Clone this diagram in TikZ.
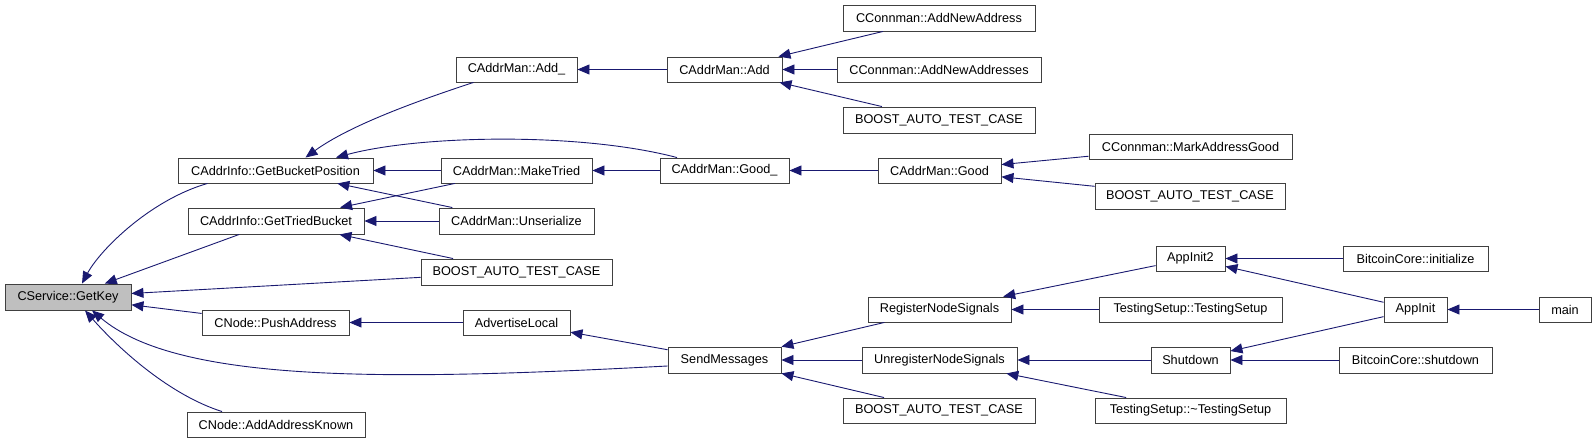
\documentclass[tikz,border=0pt]{standalone}
\usepackage{fontspec}
\setmainfont{Liberation Sans}
\usetikzlibrary{arrows.meta,calc}
\definecolor{edgeblue}{HTML}{191970}
\definecolor{boxline}{HTML}{404040}
\definecolor{hlfill}{HTML}{BFBFBF}
\newcommand\ndbox[7][]{%
  \node[box,#1,minimum width={(#5-#3)*1pt},minimum height={(#6-#4)*1pt}] (#2) at ({(#3+#5)/2},{(#4+#6)/2}) {#7};}
\begin{document}
\begin{tikzpicture}[x=1pt,y=-1pt,
  box/.style={draw=boxline,line width=0.9pt,fill=white,inner sep=0pt,font=\fontsize{12.7}{14}\selectfont,text=black},
  edge/.style={draw=edgeblue,line width=0.9pt,{Triangle[length=12pt,width=10pt]}-}]
\useasboundingbox (0,0) rectangle (1596,443);
% column 0
\ndbox[fill=hlfill]{gk}{5}{284}{131}{310}{CService::GetKey}
% column 1
\ndbox{gbp}{178}{158}{373}{183}{CAddrInfo::GetBucketPosition}
\ndbox{gtb}{188}{208}{364}{234}{CAddrInfo::GetTriedBucket}
\ndbox{pa}{202}{310}{349}{335}{CNode::PushAddress}
\ndbox{aak}{187}{412}{365}{437}{CNode::AddAddressKnown}
% column 2
\ndbox{addu}{456}{57}{577}{82}{CAddrMan::Add\_}
\ndbox{mt}{441}{158}{592}{183}{CAddrMan::MakeTried}
\ndbox{uns}{439}{208}{594}{234}{CAddrMan::Unserialize}
\ndbox{bm}{421}{259}{612}{285}{BOOST\_AUTO\_TEST\_CASE}
\ndbox{al}{463}{310}{570}{335}{AdvertiseLocal}
% column 3
\ndbox{add}{667}{57}{782}{82}{CAddrMan::Add}
\ndbox{goodu}{660}{158}{789}{183}{CAddrMan::Good\_}
\ndbox{sm}{668}{347}{781}{373}{SendMessages}
% column 4
\ndbox{ana}{843}{5}{1035}{31}{CConnman::AddNewAddress}
\ndbox{anas}{837}{57}{1041}{82}{CConnman::AddNewAddresses}
\ndbox{bt}{843}{107}{1035}{133}{BOOST\_AUTO\_TEST\_CASE}
\ndbox{good}{878}{158}{1001}{183}{CAddrMan::Good}
\ndbox{rns}{868}{297}{1011}{322}{RegisterNodeSignals}
\ndbox{urns}{862}{347}{1017}{373}{UnregisterNodeSignals}
\ndbox{bb}{843}{398}{1035}{423}{BOOST\_AUTO\_TEST\_CASE}
% column 5
\ndbox{mag}{1089}{134}{1292}{159}{CConnman::MarkAddressGood}
\ndbox{bg}{1095}{183}{1285}{209}{BOOST\_AUTO\_TEST\_CASE}
\ndbox{ai2}{1156}{246}{1225}{271}{AppInit2}
\ndbox{ts}{1099}{297}{1282}{322}{TestingSetup::TestingSetup}
\ndbox{sd}{1151}{347}{1230}{373}{Shutdown}
\ndbox{tsd}{1095}{398}{1286}{423}{TestingSetup::\textasciitilde TestingSetup}
% column 6
\ndbox{bci}{1343}{246}{1488}{271}{BitcoinCore::initialize}
\ndbox{ai}{1384}{297}{1447}{322}{AppInit}
\ndbox{bcs}{1339}{347}{1492}{373}{BitcoinCore::shutdown}
% column 7
\ndbox{main}{1539}{297}{1591}{322}{main}
% edges into CService::GetKey
\draw[edge] ($(gk.north)+(14,0)$) .. controls (100,250) and (150,200) .. ($(gbp.south)+(-68,0)$);
\draw[edge] (gk) -- (gtb);
\draw[edge] (gk) -- (bm);
\draw[edge] (gk) -- (pa);
\draw[edge] ($(gk.south)+(24,0)$) .. controls (180,385) and (400,380) .. ($(sm.west)+(0,6)$);
\draw[edge] ($(gk.south)+(17,0)$) .. controls (120,350) and (170,395) .. ($(aak.north)+(-54,0)$);
% into GetBucketPosition
\draw[edge] ($(gbp.north)+(30,0)$) .. controls (350,125) and (420,100) .. ($(addu.south)+(-43,0)$);
\draw[edge] ($(gbp.north)+(60.5,0)$) .. controls (420,135) and (580,132) .. ($(goodu.north)+(-47.5,0)$);
\draw[edge] (gbp) -- (mt);
\draw[edge] (gbp) -- (uns);
% into GetTriedBucket
\draw[edge] (gtb) -- (mt);
\draw[edge] (gtb) -- (uns);
\draw[edge] (gtb) -- (bm);
% others
\draw[edge] (addu) -- (add);
\draw[edge] (add) -- (ana);
\draw[edge] (add) -- (anas);
\draw[edge] (add) -- (bt);
\draw[edge] (mt) -- (goodu);
\draw[edge] (goodu) -- (good);
\draw[edge] (good) -- (mag);
\draw[edge] (good) -- (bg);
\draw[edge] (pa) -- (al);
\draw[edge] (al) -- (sm);
\draw[edge] (sm) -- (rns);
\draw[edge] (sm) -- (urns);
\draw[edge] (sm) -- (bb);
\draw[edge] (rns) -- (ai2);
\draw[edge] (rns) -- (ts);
\draw[edge] (urns) -- (sd);
\draw[edge] (urns) -- (tsd);
\draw[edge] (ai2) -- (bci);
\draw[edge] (ai2) -- (ai);
\draw[edge] (sd) -- (ai);
\draw[edge] (sd) -- (bcs);
\draw[edge] (ai) -- (main);
\end{tikzpicture}
\end{document}
